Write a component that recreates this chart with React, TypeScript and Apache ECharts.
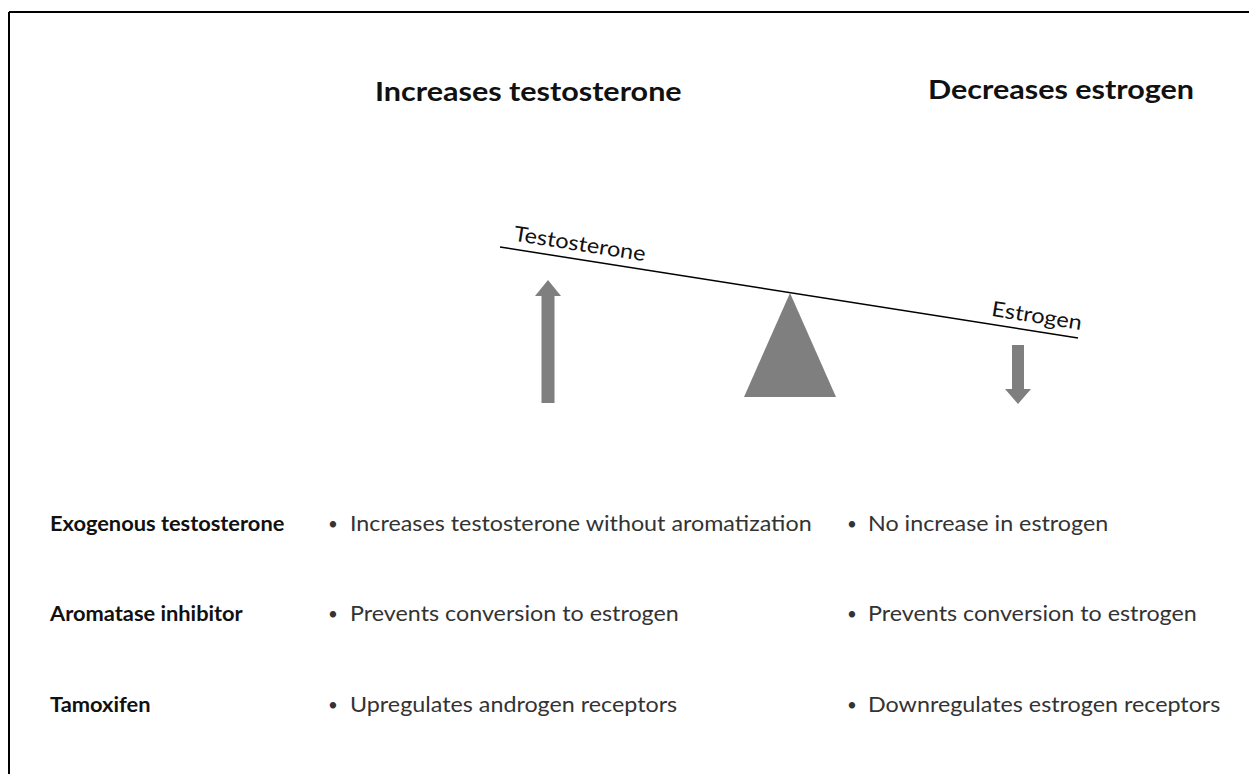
import React, { useEffect, useRef } from "react";
import * as echarts from "echarts";

const headerTitles = ["Increases testosterone", "Decreases estrogen"];
const balanceLabels = ["Testosterone", "Estrogen"];
const treatments = ["Exogenous testosterone", "Aromatase inhibitor", "Tamoxifen"];
const testosteroneEffects = [
  "Increases testosterone without aromatization",
  "Prevents conversion to estrogen",
  "Upregulates androgen receptors",
];
const estrogenEffects = [
  "No increase in estrogen",
  "Prevents conversion to estrogen",
  "Downregulates estrogen receptors",
];

const FONT = "Lato, 'Open Sans', sans-serif";
const GRAY = "#7f7f7f";

export default function App() {
  const ref = useRef<HTMLDivElement>(null);
  useEffect(() => {
    document.body.style.margin = "0";
    const chart = echarts.init(ref.current!, null, { renderer: "svg" });
    const g: any[] = [];
    // frame
    g.push({ type: "line", shape: { x1: 9, y1: 12, x2: 1249, y2: 12 }, style: { stroke: "#000", lineWidth: 2 } });
    g.push({ type: "line", shape: { x1: 9, y1: 12, x2: 9, y2: 774 }, style: { stroke: "#000", lineWidth: 2 } });
    // headers
    const headerX = [375, 928];
    const headerY = [90, 88];
    headerTitles.forEach((t, i) => {
      g.push({
        type: "text", x: headerX[i], y: headerY[i], scaleX: 1.11,
        style: { text: t, fill: "#111", font: `bold 27.5px ${FONT}`, textAlign: "left", textVerticalAlign: "middle" },
      });
    });
    // seesaw beam
    const bx1 = 500, by1 = 247, bx2 = 1078, by2 = 338;
    g.push({ type: "line", shape: { x1: bx1, y1: by1, x2: bx2, y2: by2 }, style: { stroke: "#000", lineWidth: 1.5 } });
    const ang = Math.atan2(by2 - by1, bx2 - bx1);
    const lblPos = [[580, 243], [1037, 315]];
    balanceLabels.forEach((t, i) => {
      g.push({
        type: "text", x: lblPos[i][0], y: lblPos[i][1], rotation: -ang, scaleX: 1.12,
        style: { text: t, fill: "#111", font: `21px ${FONT}`, textAlign: "center", textVerticalAlign: "middle" },
      });
    });
    // fulcrum
    g.push({ type: "polygon", shape: { points: [[790, 293], [836, 397], [744, 397]] }, style: { fill: GRAY } });
    // up arrow
    g.push({
      type: "polygon",
      shape: { points: [[548, 280], [561, 296], [554.5, 296], [554.5, 403], [541.5, 403], [541.5, 296], [535, 296]] },
      style: { fill: GRAY },
    });
    // down arrow
    g.push({
      type: "polygon",
      shape: { points: [[1012, 345], [1024, 345], [1024, 389], [1031, 389], [1018, 404], [1005, 389], [1012, 389]] },
      style: { fill: GRAY },
    });
    // rows
    const rowY = [523, 613, 704];
    treatments.forEach((t, i) => {
      g.push({
        type: "text", x: 50, y: rowY[i], scaleX: 1.04,
        style: { text: t, fill: "#111", font: `bold 21px ${FONT}`, textAlign: "left", textVerticalAlign: "middle" },
      });
      g.push({
        type: "text", x: 328, y: rowY[i],
        style: { text: "•", fill: "#333", font: `17px ${FONT}`, textAlign: "left", textVerticalAlign: "middle" },
      });
      g.push({
        type: "text", x: 350, y: rowY[i], scaleX: 1.11,
        style: { text: testosteroneEffects[i], fill: "#333", font: `21px ${FONT}`, textAlign: "left", textVerticalAlign: "middle" },
      });
      g.push({
        type: "text", x: 847, y: rowY[i],
        style: { text: "•", fill: "#333", font: `17px ${FONT}`, textAlign: "left", textVerticalAlign: "middle" },
      });
      g.push({
        type: "text", x: 868, y: rowY[i], scaleX: 1.11,
        style: { text: estrogenEffects[i], fill: "#333", font: `21px ${FONT}`, textAlign: "left", textVerticalAlign: "middle" },
      });
    });
    chart.setOption({ animation: false, backgroundColor: "#fff", graphic: { elements: g } });
    return () => chart.dispose();
  }, []);
  return <div ref={ref} style={{ position: "absolute", left: 0, top: 0, width: 1249, height: 774 }} />;
}
